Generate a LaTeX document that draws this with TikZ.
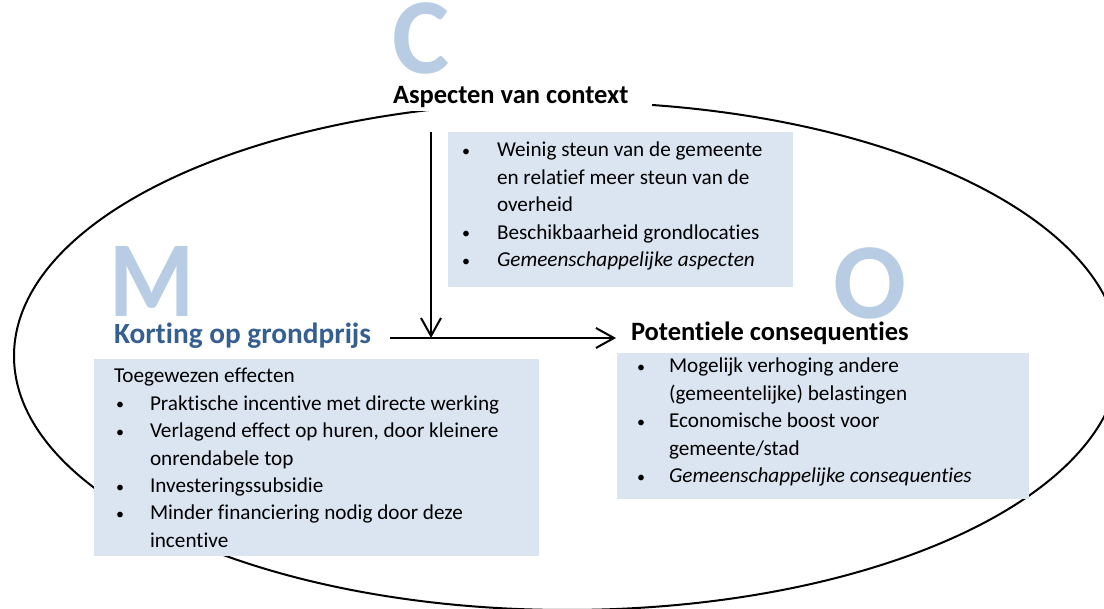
\documentclass[tikz,border=0pt]{standalone}
\usepackage{fontspec}
\setmainfont{Carlito}[Ligatures={NoCommon,NoContextual}]
\usetikzlibrary{arrows.meta}
\definecolor{boxfill}{HTML}{DBE5F1}
\definecolor{letterblue}{HTML}{B8CCE4}
\definecolor{headblue}{HTML}{365F91}

% list lines: bullet item, continuation line, plain line
\newlength\bgap
\newcommand\smallbullet{\raisebox{0.5pt}{\fontsize{16}{16}\selectfont\textbullet}}
\newcommand\bitem[1]{\hbox{\makebox[\bgap][l]{\smallbullet}#1}}
\newcommand\bcont[1]{\hbox{\hspace*{\bgap}#1}}
\newcommand\bplain[1]{\hbox{#1}}

\begin{document}
\begin{tikzpicture}[x=1pt,y=-1pt,
  every node/.style={inner sep=0pt, outer sep=0pt},
  bigletter/.style={anchor=base west, text=letterblue,
    font=\fontsize{108}{108}\selectfont\bfseries},
  heading/.style={anchor=base west, font=\fontsize{26.5}{30}\selectfont\bfseries},
  panel/.style={fill=boxfill, anchor=north west},
  listtext/.style={anchor=base west, font=\fontsize{21.2}{27.4}\selectfont},
  conn/.style={line width=2pt, -{Straight Barb[length=18pt,width=20pt]}},
  rim/.style={line width=2pt}]

\useasboundingbox (0,0) rectangle (1104,609);

% outer ellipse around the three parts
\draw[rim] (567,356) ellipse [x radius=553pt, y radius=254pt];

% big letters C, M, O
\node[bigletter] (bigC) at (392,74) {C};
\node[bigletter] (bigM) at (109,317) {\scalebox{0.9}[1]{M}};
\node[bigletter] (bigO) at (833,318.5) {O};

% headings
\node[heading, fill=white, inner xsep=24pt, inner ysep=3pt] (ctitle) at (369,104) {Aspecten van context};
\node[heading, text=headblue, font=\fontsize{29.3}{33}\selectfont\bfseries] (mtitle) at (114,344) {Korting op grondprijs};
\node[heading] (otitle) at (631,341) {Potentiele consequenties};

% shaded panels
\node[panel, minimum width=345pt, minimum height=155pt] (cbox) at (448,132) {};
\node[panel, minimum width=445pt, minimum height=197pt] (mbox) at (94,359) {};
\node[panel, minimum width=412pt, minimum height=146pt] (obox) at (617,353) {};

% panel texts
\node[listtext] (clist) at (462,157) {\setlength\bgap{35pt}\vtop{%
  \bitem{Weinig steun van de gemeente}
  \bcont{en relatief meer steun van de}
  \bcont{overheid}
  \bitem{Beschikbaarheid grondlocaties}
  \bitem{\itshape Gemeenschappelijke aspecten}}};

\node[listtext] (mlist) at (114,383) {\setlength\bgap{36pt}\vtop{%
  \bplain{Toegewezen effecten}
  \hbox{\hspace*{2pt}\makebox[34pt][l]{\smallbullet}Praktische incentive met directe werking}
  \hbox{\hspace*{2pt}\makebox[34pt][l]{\smallbullet}Verlagend effect op huren, door kleinere}
  \bcont{onrendabele top}
  \hbox{\hspace*{2pt}\makebox[34pt][l]{\smallbullet}Investeringssubsidie}
  \hbox{\hspace*{2pt}\makebox[34pt][l]{\smallbullet}Minder financiering nodig door deze}
  \bcont{incentive}}};

\node[listtext] (olist) at (637,373) {\setlength\bgap{32pt}\vtop{%
  \bitem{Mogelijk verhoging andere}
  \bcont{(gemeentelijke) belastingen}
  \bitem{Economische boost voor}
  \bcont{gemeente/stad}
  \bitem{\itshape Gemeenschappelijke consequenties}}};

% connectors
\coordinate (jn) at (431,338);
\draw[conn] (mtitle.east |- jn) ++(19,0) -- ([xshift=-15pt]otitle.west |- jn);
\draw[conn] (ctitle.south -| jn) ++(0,21) -- (jn);

\end{tikzpicture}
\end{document}
